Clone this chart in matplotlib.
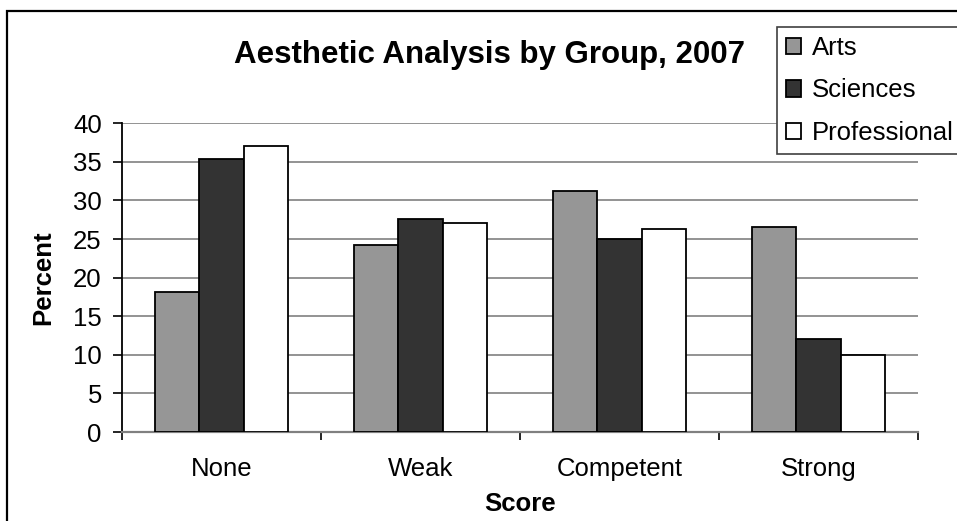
import matplotlib
matplotlib.use("Agg")
import matplotlib.pyplot as plt
from matplotlib.patches import Rectangle, Patch
import numpy as np

plt.rcParams['font.family'] = ['Liberation Sans', 'DejaVu Sans']

categories = ["None", "Weak", "Competent", "Strong"]
series_names = ["Arts", "Sciences", "Professional"]
arts = [18.2, 24.2, 31.2, 26.5]
sciences = [35.4, 27.6, 25.0, 12.0]
professional = [37.0, 27.1, 26.3, 10.0]
y_ticks = [0, 5, 10, 15, 20, 25, 30, 35, 40]

values = [arts, sciences, professional]
colors = ["#969696", "#333333", "#ffffff"]

W, H = 957, 521
fig = plt.figure(figsize=(W / 100, H / 100), dpi=100)

# outer chart frame (runs off the right and bottom edges)
fig.patches.append(Rectangle((7 / W, -0.1), 1.2, 1 - 11 / H + 0.1,
                             transform=fig.transFigure, fill=False,
                             edgecolor="#000000", linewidth=1.6, zorder=0))

left, right, top, bottom = 122, 918, 123.3, 432
ax = fig.add_axes([left / W, 1 - bottom / H, (right - left) / W, (bottom - top) / H])

x = np.arange(len(categories))
bw = 0.224
for i, (vals, col) in enumerate(zip(values, colors)):
    ax.bar(x + (i - 1) * bw, vals, width=bw, color=col, edgecolor="#000000",
           linewidth=1.3, zorder=3, label=series_names[i])

fs = 18.5
ax.set_xlim(-0.5, len(categories) - 0.5)
ax.set_ylim(0, 40)
ax.set_yticks(y_ticks)
ax.set_yticklabels([str(t) for t in y_ticks], fontsize=fs)
ax.yaxis.grid(True, color="#808080", linewidth=1.2, zorder=0)
ax.set_axisbelow(True)

# category boundaries carry the tick marks; labels sit at group centers
ax.set_xticks(np.arange(len(categories) + 1) - 0.5)
ax.set_xticklabels([])
ax.set_xticks(x, minor=True)
ax.set_xticklabels(categories, minor=True, fontsize=fs)
ax.tick_params(axis="x", which="minor", length=0, pad=18)
ax.tick_params(axis="x", which="major", length=6, width=1.2, color="#000000")
ax.tick_params(axis="y", length=6.5, width=1.2, color="#000000", pad=8)

for s in ["top", "right"]:
    ax.spines[s].set_visible(False)
ax.spines["left"].set_color("#000000")
ax.spines["left"].set_linewidth(1.3)
ax.spines["bottom"].set_color("#808080")
ax.spines["bottom"].set_linewidth(1.6)

ax.set_xlabel("Score", fontsize=fs, fontweight="bold", labelpad=8)
ax.set_ylabel("Percent", fontsize=fs, fontweight="bold", labelpad=13)

fig.text(489 / W, 1 - 55 / H, "Aesthetic Analysis by Group, 2007",
         fontsize=22.5, fontweight="bold", ha="center", va="center")

handles = [Patch(facecolor=c, edgecolor="#000000", linewidth=1.3) for c in colors]
leg = fig.legend(handles, series_names, loc="upper left",
                 bbox_to_anchor=(777 / W, 1 - 27 / H), bbox_transform=fig.transFigure,
                 fontsize=fs, frameon=True, fancybox=False, framealpha=1,
                 edgecolor="#404040", handlelength=0.6, handleheight=0.6,
                 handletextpad=0.4, borderpad=0.35, labelspacing=0.72,
                 borderaxespad=0)
leg.get_frame().set_linewidth(1.2)

fig.savefig("out.png", dpi=100)
